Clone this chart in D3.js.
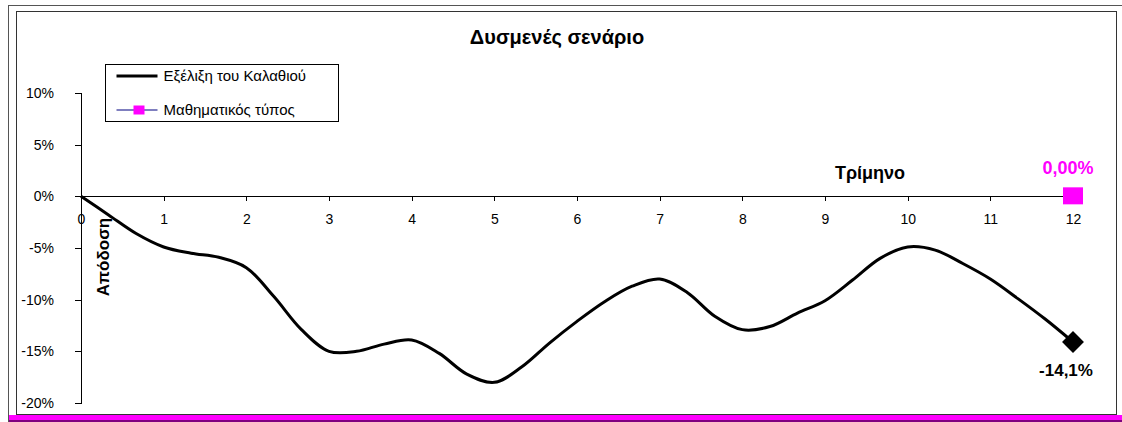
<!DOCTYPE html>
<html>
<head>
<meta charset="utf-8">
<script src="https://cdn.jsdelivr.net/npm/d3@7"></script>
<style>
    body { margin: 0; background: #fff; }
    svg { display: block; font-family: "Liberation Sans", Arial, sans-serif; }
</style>
</head>
<body>
<svg id="chart" width="1122" height="422"></svg>
<script>
// monthly points, x in quarters
let quarters = [0, 1/3, 2/3, 1, 4/3, 5/3, 2, 7/3, 8/3, 3, 10/3, 11/3, 4, 13/3, 14/3, 5, 16/3, 17/3, 6,
    19/3, 20/3, 7, 22/3, 23/3, 8, 25/3, 26/3, 9, 28/3, 29/3, 10, 31/3, 32/3, 11, 34/3, 35/3, 12];
let basketValues = [0, -1.8, -3.6, -4.9, -5.5, -5.9, -6.9, -9.7, -12.9, -15.0, -15.0, -14.3, -13.9, -15.2, -17.2, -18.0,
    -16.5, -14.2, -12.1, -10.2, -8.7, -8.0, -9.3, -11.6, -12.9, -12.6, -11.3, -10.1, -8.1, -6.0, -4.9, -5.2, -6.5,
    -8.0, -9.9, -11.9, -14.1];
let formulaPoint = [12, 0];
let xTicks = [0, 1, 2, 3, 4, 5, 6, 7, 8, 9, 10, 11, 12];
let yTicks = [10, 5, 0, -5, -10, -15, -20];
let legendLabels = ["Εξέλιξη του Καλαθιού", "Μαθηματικός τύπος"];

let svg = d3.select("#chart");
let fmt = v => String(v).replace(".", ",");

// frame
svg.append("rect").attr("x", 8.5).attr("y", 5.5).attr("width", 1120).attr("height", 420)
    .style("fill", "none").style("stroke", "#555");
svg.append("rect").attr("x", 16.5).attr("y", 11.5).attr("width", 1100).attr("height", 403)
    .style("fill", "#fff").style("stroke", "#333");
svg.append("rect").attr("x", 9).attr("y", 415).attr("width", 1113).attr("height", 5).style("fill", "#ff00ff");
svg.append("rect").attr("x", 9).attr("y", 420).attr("width", 1113).attr("height", 2).style("fill", "#800080");

let x = d3.scaleLinear().domain([0, 12]).range([81, 1073]);
let y = d3.scaleLinear().domain([-20, 10]).range([403, 93]);

// axes
let yAxis = svg.append("g")
    .attr("transform", "translate(81,0)")
    .call(d3.axisLeft(y).tickValues(yTicks).tickSize(6).tickPadding(21).tickFormat(d => d + "%"));
let xAxis = svg.append("g")
    .attr("transform", `translate(0,${y(0)})`)
    .call(d3.axisBottom(x).tickValues(xTicks).tickSize(5).tickSizeOuter(0).tickPadding(13));
[xAxis, yAxis].forEach(a => {
    a.selectAll("path,line").style("stroke", "#000").style("shape-rendering", "crispedges");
    a.selectAll("text").style("font-size", "14px").style("fill", "#000")
        .style("font-family", "Liberation Sans, Arial, sans-serif");
});

// title and axis titles
svg.append("text").attr("x", 557).attr("y", 44).attr("text-anchor", "middle")
    .style("font-size", "20px").style("font-weight", "bold").text("Δυσμενές σενάριο");
svg.append("text").attr("x", 870).attr("y", 179).attr("text-anchor", "middle")
    .style("font-size", "18px").style("font-weight", "bold").text("Τρίμηνο");
svg.append("text").attr("transform", "translate(109,257) rotate(-90)").attr("text-anchor", "middle")
    .style("font-size", "17px").style("font-weight", "bold").text("Απόδοση");

// basket line
let pts = quarters.map((q, i) => [q, basketValues[i]]);
svg.append("path")
    .datum(pts)
    .attr("d", d3.line().x(d => x(d[0])).y(d => y(d[1])).curve(d3.curveCatmullRom.alpha(0.5)))
    .style("fill", "none").style("stroke", "#000").style("stroke-width", 3).style("stroke-linejoin", "round");

let last = pts[pts.length - 1];
svg.append("path")
    .attr("d", d3.symbol(d3.symbolSquare, 240)())
    .attr("transform", `translate(${x(last[0])},${y(last[1])}) rotate(45)`)
    .style("fill", "#000");
svg.append("text").attr("x", x(last[0]) - 7).attr("y", 376).attr("text-anchor", "middle")
    .style("font-size", "17px").style("font-weight", "bold").text(fmt(last[1]) + "%");

// formula point
svg.append("rect")
    .attr("x", x(formulaPoint[0]) - 10).attr("y", y(formulaPoint[1]) - 9)
    .attr("width", 20).attr("height", 17).style("fill", "#ff00ff");
svg.append("text").attr("x", x(formulaPoint[0]) - 5).attr("y", 174).attr("text-anchor", "middle")
    .style("font-size", "18px").style("font-weight", "bold").style("fill", "#ff00ff")
    .text(formulaPoint[1].toFixed(2).replace(".", ",") + "%");

// legend
let legend = svg.append("g").attr("transform", "translate(105.5,64.5)");
legend.append("rect").attr("width", 233).attr("height", 57)
    .style("fill", "#fff").style("stroke", "#000");
legend.append("line").attr("x1", 11).attr("x2", 52).attr("y1", 11.5).attr("y2", 11.5)
    .style("stroke", "#000").style("stroke-width", 3);
legend.append("line").attr("x1", 11).attr("x2", 52).attr("y1", 45.5).attr("y2", 45.5)
    .style("stroke", "#000080").style("stroke-width", 1.2);
legend.append("rect").attr("x", 28).attr("y", 41).attr("width", 11).attr("height", 9).style("fill", "#ff00ff");
legend.selectAll("text.lbl")
    .data(legendLabels)
    .join("text")
    .attr("class", "lbl")
    .attr("x", 58)
    .attr("y", (d, i) => 16.5 + i * 34)
    .style("font-size", "15px")
    .text(d => d);
</script>
</body>
</html>
